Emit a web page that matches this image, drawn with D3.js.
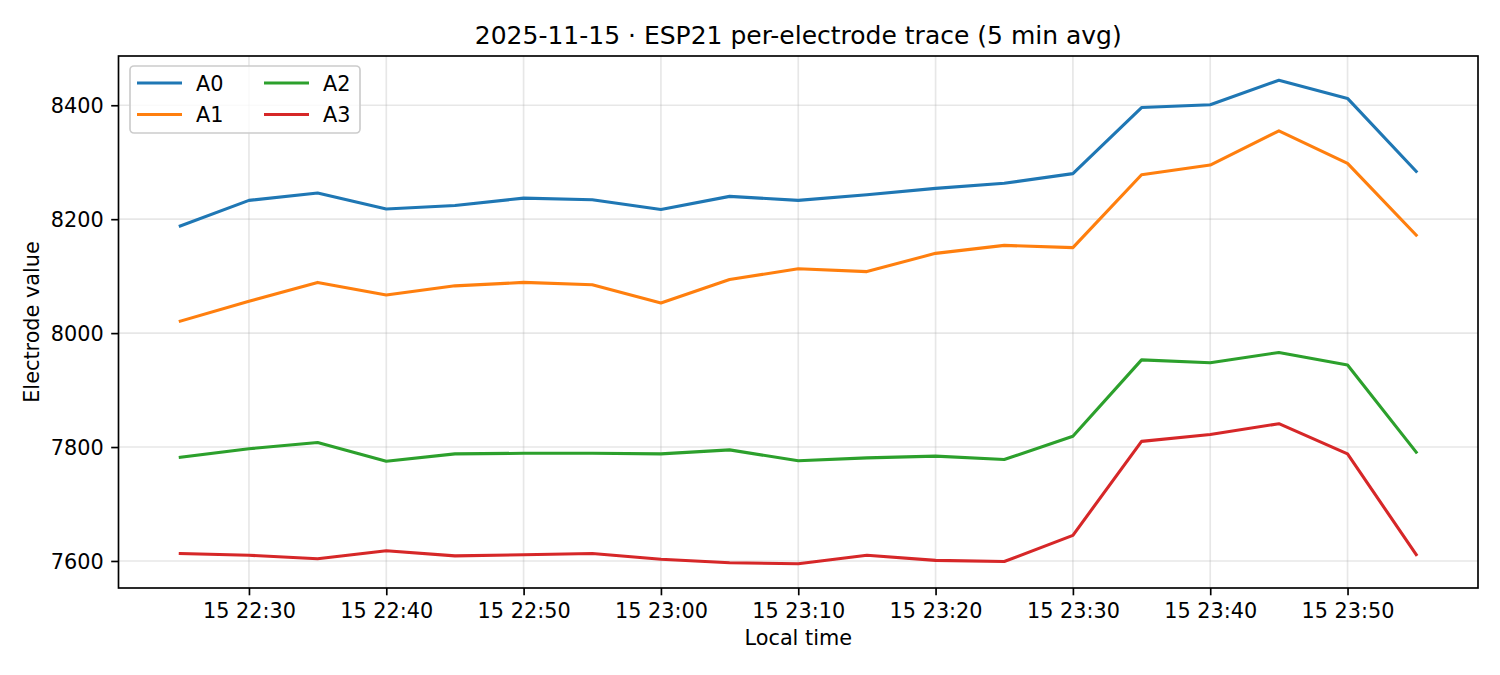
<html>
  <head>
    <meta charset="utf-8">
    <title>ESP21 per-electrode trace</title>
    <script src="https://cdn.jsdelivr.net/npm/d3@7"></script>
    <style>
body { margin: 0; background: #fff; }
svg text { font-family: "DejaVu Sans", sans-serif; fill: #000; }
.grid line { stroke: #b0b0b0; stroke-opacity: 0.3; stroke-width: 1.67px; }
.axis path, .axis line { stroke: #000; stroke-width: 1.67px; }
.trace { fill: none; stroke-width: 3.1px; stroke-linejoin: round; stroke-linecap: square; }
    </style>
  </head>
  <body>
    <script>

// 5 min averages, local time on 2025-11-15
var times = ["22:25","22:30","22:35","22:40","22:45","22:50","22:55","23:00","23:05","23:10",
             "23:15","23:20","23:25","23:30","23:35","23:40","23:45","23:50","23:55"];
var A0 = [8188,8233,8246,8218,8224,8237,8234,8217,8240,8233,8243,8254,8263,8280,8396,8401,8444,8412,8284];
var A1 = [8021,8056,8089,8067,8083,8089,8085,8053,8094,8113,8108,8140,8154,8150,8278,8295,8355,8298,8172];
var A2 = [7782,7797,7808,7775,7788,7789,7789,7788,7795,7776,7781,7784,7778,7819,7953,7948,7966,7944,7791];
var A3 = [7613,7610,7604,7618,7609,7611,7613,7603,7597,7595,7610,7601,7599,7645,7810,7822,7841,7788,7611];
var names = ["A0","A1","A2","A3"];
var colors = ["#1f77b4","#ff7f0e","#2ca02c","#d62728"];

var width = 1500, height = 675;
var m = {left: 118.5, top: 56, right: 1478, bottom: 588};

var parse = d3.utcParse("%Y-%m-%d %H:%M");
var dates = times.map(function(t){ return parse("2025-11-15 " + t); });
var series = [A0, A1, A2, A3].map(function(vals, i) {
  return {name: names[i], color: colors[i], pts: vals.map(function(v, j){ return {t: dates[j], v: v}; })};
});

// matplotlib style 5% margins
var tx = d3.extent(dates), span = tx[1] - tx[0];
var x = d3.scaleUtc()
    .domain([new Date(+tx[0] - span * 0.05), new Date(+tx[1] + span * 0.05)])
    .range([m.left, m.right]);
var all = A0.concat(A1, A2, A3);
var ymin = d3.min(all), ymax = d3.max(all), ypad = (ymax - ymin) * 0.05;
var y = d3.scaleLinear().domain([ymin - ypad, ymax + ypad]).range([m.bottom, m.top]);

var xticks = x.ticks(d3.utcMinute.every(10));
var yticks = [7600, 7800, 8000, 8200, 8400];

var svg = d3.select("body").append("svg")
    .attr("width", width)
    .attr("height", height);

// grid
var grid = svg.append("g").attr("class", "grid");
grid.selectAll(".gx").data(xticks).enter().append("line")
    .attr("x1", function(d){ return x(d); }).attr("x2", function(d){ return x(d); })
    .attr("y1", m.top).attr("y2", m.bottom);
grid.selectAll(".gy").data(yticks).enter().append("line")
    .attr("x1", m.left).attr("x2", m.right)
    .attr("y1", function(d){ return y(d); }).attr("y2", function(d){ return y(d); });

// lines
var line = d3.line().x(function(d){ return x(d.t); }).y(function(d){ return y(d.v); });
svg.selectAll(".trace").data(series).enter().append("path")
    .attr("class", "trace")
    .attr("stroke", function(d){ return d.color; })
    .attr("d", function(d){ return line(d.pts); });

// axes
var xAxis = d3.axisBottom(x).tickValues(xticks).tickFormat(d3.utcFormat("%d %H:%M"))
    .tickSizeInner(7.3).tickSizeOuter(0).tickPadding(6);
var gx = svg.append("g").attr("class", "axis")
    .attr("transform", "translate(0," + m.bottom + ")").call(xAxis);
gx.select(".domain").remove();
gx.selectAll("text").attr("font-size", "20.8px").attr("dy", "0.79em");

var yAxis = d3.axisLeft(y).tickValues(yticks).tickFormat(d3.format("d"))
    .tickSizeInner(7.3).tickSizeOuter(0).tickPadding(7.5);
var gy = svg.append("g").attr("class", "axis")
    .attr("transform", "translate(" + m.left + ",0)").call(yAxis);
gy.select(".domain").remove();
gy.selectAll("text").attr("font-size", "20.8px").attr("dy", "0.36em");

// frame
svg.append("rect")
    .attr("x", m.left).attr("y", m.top)
    .attr("width", m.right - m.left).attr("height", m.bottom - m.top)
    .attr("fill", "none").attr("stroke", "#000").attr("stroke-width", 1.67);

// labels
svg.append("text").attr("x", (m.left + m.right) / 2).attr("y", 43.5)
    .attr("text-anchor", "middle").attr("font-size", "25px")
    .text("2025-11-15 \u00b7 ESP21 per-electrode trace (5 min avg)");
svg.append("text").attr("x", (m.left + m.right) / 2).attr("y", 645)
    .attr("text-anchor", "middle").attr("font-size", "20.8px")
    .text("Local time");
svg.append("text")
    .attr("transform", "translate(39," + (m.top + m.bottom) / 2 + ") rotate(-90)")
    .attr("text-anchor", "middle").attr("font-size", "20.8px")
    .text("Electrode value");

// legend, 2 columns
var leg = svg.append("g").attr("transform", "translate(130,66)");
leg.append("rect")
    .attr("width", 230).attr("height", 67).attr("rx", 4)
    .attr("fill", "#fff").attr("fill-opacity", 0.8)
    .attr("stroke", "#cccccc").attr("stroke-width", 1.67);
var item = leg.selectAll(".item").data(series).enter().append("g")
    .attr("transform", function(d, i){
      return "translate(" + (7 + Math.floor(i / 2) * 127) + "," + (17 + (i % 2) * 31.5) + ")";
    });
item.append("line").attr("x1", 0).attr("x2", 45)
    .attr("stroke", function(d){ return d.color; }).attr("stroke-width", 3.1);
item.append("text").attr("x", 59).attr("dy", "0.36em")
    .attr("font-size", "20.8px").text(function(d){ return d.name; });

</script>
  </body>
</html>
